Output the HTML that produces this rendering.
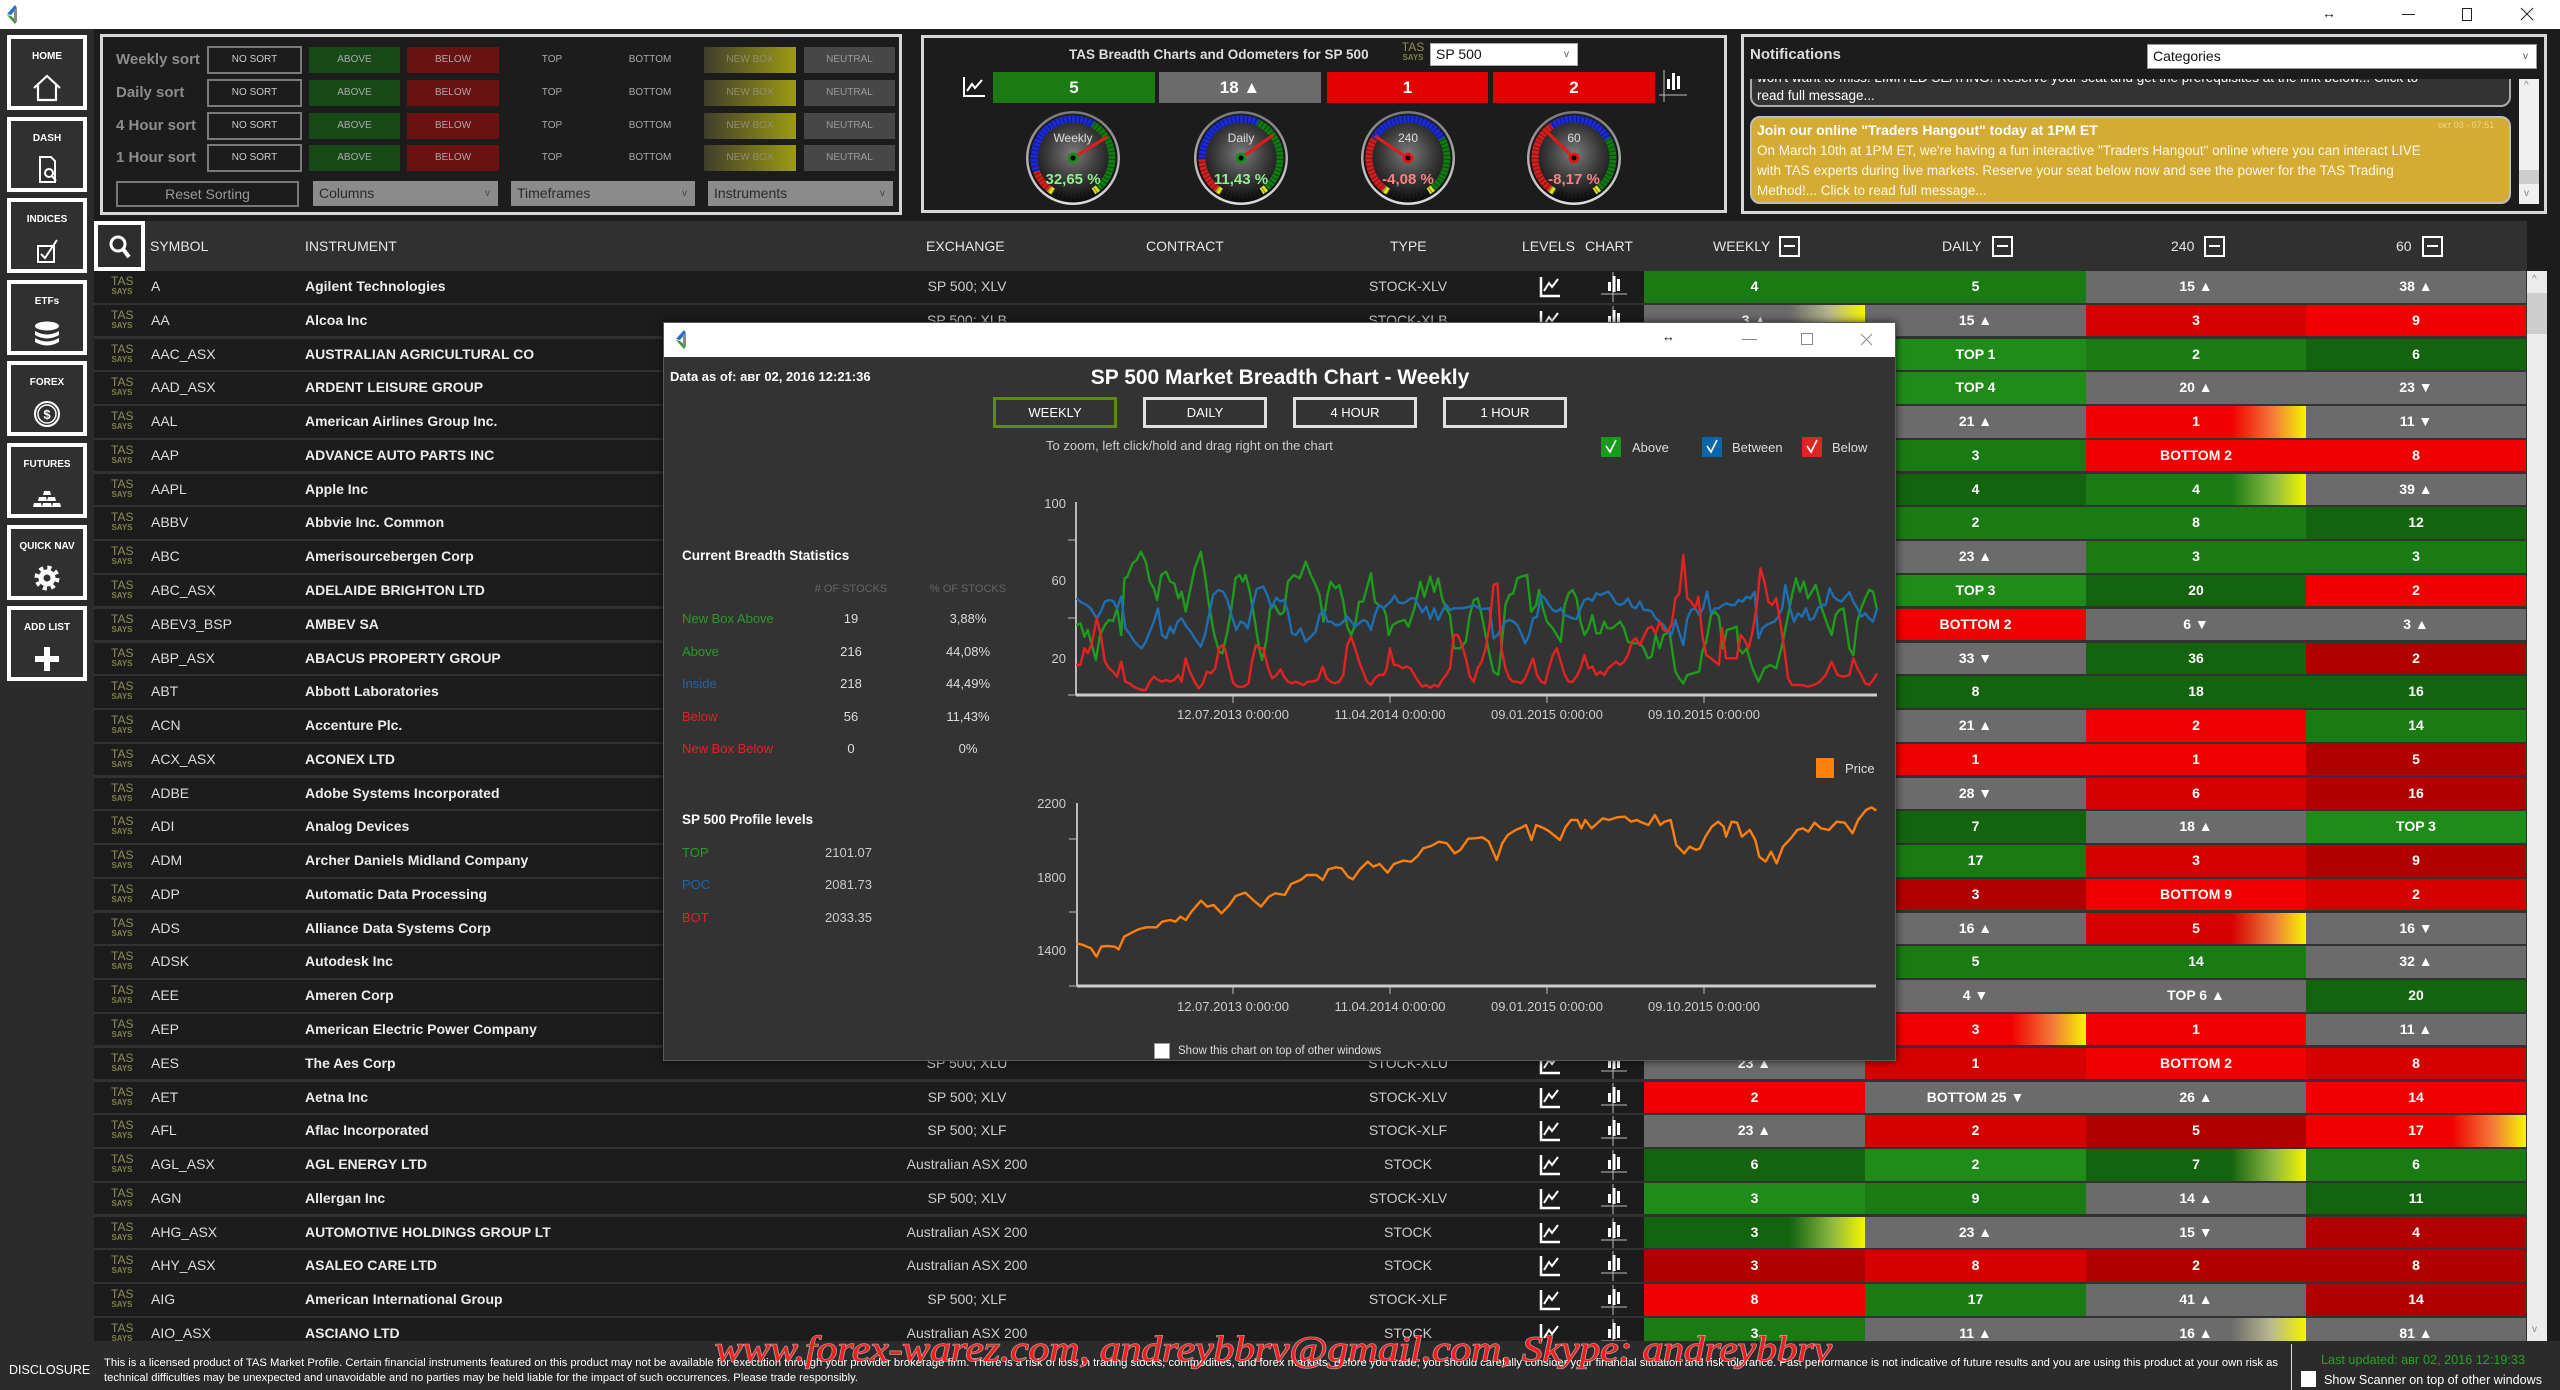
<!DOCTYPE html>
<html><head><meta charset="utf-8">
<style>
*{box-sizing:border-box}
body{margin:0;width:2560px;height:1390px;position:relative;overflow:hidden;background:#1c1c1c;font-family:"Liberation Sans","DejaVu Sans",sans-serif;color:#e6e6e6}
.a{position:absolute}
.sb{position:absolute;left:7px;width:80px;height:75px;border:4px solid #fff;background:#303030;color:#fff;font-weight:bold;font-size:10px;text-align:center}
.sb span{position:absolute;left:0;right:0;top:12px;line-height:12px}
.sb svg{position:absolute;left:19px;top:34px}
.lab{position:absolute;left:116px;font-weight:bold;font-size:15px;color:#8c8c8c;line-height:26px}
.btn{position:absolute;height:26px;line-height:26px;font-size:10px;text-align:center;color:#a9a9a9}
.ns{left:207px;width:95px;height:28px;line-height:24px;border:2px solid #7a7a7a;color:#ccc}
.ab{left:309px;width:91px;background:#174a16}
.be{left:407px;width:92px;background:#6a1111}
.tp{left:512px;width:80px}
.bt{left:610px;width:80px}
.nb{left:704px;width:92px;background:linear-gradient(90deg,#3e3e2c,#9d9b12);color:#8e8e74}
.nu{left:804px;width:91px;background:#474747;color:#9a9a9a}
.dd{position:absolute;top:181px;height:25px;background:#8b8b8b;color:#2a2a2a;font-size:14px;line-height:25px;padding-left:6px}
.dd i{position:absolute;right:8px;top:0;font-style:normal;font-size:10px;color:#444}
.bar{position:absolute;top:72px;height:31px;line-height:31px;text-align:center;color:#fff;font-weight:bold;font-size:17px}
.h{position:absolute;top:221px;line-height:50px;font-size:14px;color:#e6e6e6}
.mb{position:absolute;top:236px;width:21px;height:21px;border:2px solid #fff}
.mb:after{content:"";position:absolute;left:3px;right:3px;top:7px;height:2px;background:#fff}
.r{position:absolute;left:94px;width:2432px;height:31.5px;background:#1c1c1c;line-height:31.5px;font-size:14px}
.r .t{position:absolute;left:17px;top:5px;width:22px;color:#8d8d55;font-size:12px;line-height:11px;text-align:center}
.r .t b{display:block;font-size:8px;line-height:10px;color:#7f7f48}
.r .s{position:absolute;left:57px;color:#ddd}
.r .n{position:absolute;left:211px;font-weight:bold;color:#ececec}
.r .e{position:absolute;left:773px;width:200px;text-align:center;color:#ccc}
.r .y{position:absolute;left:1214px;width:200px;text-align:center;color:#ccc}
.r .i1{position:absolute;left:1445px;top:5px}
.r .i2{position:absolute;left:1505px;top:1px}
.r .c{position:absolute;top:0;height:31.5px;text-align:center;font-weight:bold;color:#fff}
.c1{left:1550px;width:221px}.c2{left:1771px;width:221px}.c3{left:1992px;width:220px}.c4{left:2212px;width:220px}
.g1{background:#1a7b14}.g2{background:#14640f}.g3{background:#1f8c1a}.gy{background:#6b6b6b}
.r1{background:#f00000}.r2{background:#d50000}.r3{background:#b00000}
.gyY{background:linear-gradient(90deg,#6b6b6b 66%,#b8b890 84%,#f5f500)}
.r1Y{background:linear-gradient(90deg,#f00000 66%,#f47a3a 85%,#f5f500)}
.r2Y{background:linear-gradient(90deg,#d50000 66%,#ee7a3a 85%,#f5f500)}
.g1Y{background:linear-gradient(90deg,#1a7b14 66%,#8cbc40 85%,#f5f500)}
.g2Y{background:linear-gradient(90deg,#14640f 66%,#8cb840 85%,#f5f500)}
.p{z-index:11}
.pb{position:absolute;top:397px;width:124px;height:31px;border:3px solid #e0e0e0;color:#fff;font-size:13px;line-height:25px;text-align:center;z-index:11}
.st{position:absolute;font-size:13px;line-height:16px;z-index:11}
.cv{position:absolute;width:60px;text-align:center;color:#ddd;font-size:13px;line-height:16px;z-index:11}
</style></head><body>
<svg width="0" height="0" style="position:absolute">
<defs>
<symbol id="lv" viewBox="0 0 22 22"><path d="M2 1V20H21" stroke="#fff" stroke-width="2.5" fill="none"/><path d="M5 15L10 7L13 11L19 3" stroke="#fff" stroke-width="2" fill="none"/></symbol>
<symbol id="ch" viewBox="0 0 28 30"><path d="M14 0V30M2 22H28" stroke="#bbb" stroke-width="1"/><rect x="9" y="10" width="3" height="9" fill="#fff"/><rect x="13.5" y="4" width="3" height="16" fill="#fff"/><rect x="18" y="7" width="3" height="12" fill="#fff"/></symbol>
</defs></svg>

<!-- title bar -->
<div class="a" style="left:0;top:0;width:2560px;height:29px;background:#fff"></div>
<svg class="a" style="left:5px;top:5px" width="14" height="20"><polygon points="10,0 2,9 6,10 12,3" fill="#2a6bd0"/><polygon points="2,10 10,19 12,16 6,11" fill="#3a9a2a"/><rect x="9" y="4" width="3" height="12" fill="#888"/></svg>
<div class="a" style="left:2322px;top:5px;font-size:14px;color:#222">↔</div>
<div class="a" style="left:2402px;top:14px;width:13px;height:1px;background:#222"></div>
<div class="a" style="left:2462px;top:8px;width:10px;height:13px;border:1px solid #222"></div>
<svg class="a" style="left:2520px;top:7px" width="14" height="14"><path d="M1 1L13 13M13 1L1 13" stroke="#222" stroke-width="1"/></svg>

<!-- sidebar -->
<div class="a" style="left:0;top:29px;width:94px;height:1312px;background:#2b2b2b"></div>
<div class="sb" style="top:35px"><span>HOME</span><svg width="34" height="30"><path d="M4 15L17 3L30 15M8 12V27H26V12" stroke="#fff" stroke-width="2.2" fill="none"/></svg></div>
<div class="sb" style="top:116.6px"><span>DASH</span><svg width="34" height="30"><path d="M10 2H21L25 6V27H10Z" stroke="#fff" stroke-width="2" fill="none"/><circle cx="19" cy="18" r="4" stroke="#fff" stroke-width="2" fill="none"/><path d="M22 21L26 26" stroke="#fff" stroke-width="2"/></svg></div>
<div class="sb" style="top:198.2px"><span>INDICES</span><svg width="34" height="30"><rect x="8" y="10" width="16" height="16" stroke="#fff" stroke-width="2" fill="none"/><path d="M11 18L15 22L27 4" stroke="#fff" stroke-width="2" fill="none"/></svg></div>
<div class="sb" style="top:279.8px"><span>ETFs</span><svg width="34" height="30"><ellipse cx="17" cy="8" rx="12" ry="4.5" fill="#fff"/><path d="M5 13Q17 20 29 13V17Q17 24 5 17Z M5 20Q17 27 29 20V24Q17 31 5 24Z" fill="#fff"/></svg></div>
<div class="sb" style="top:361.4px"><span>FOREX</span><svg width="34" height="30"><circle cx="17" cy="15" r="12" stroke="#fff" stroke-width="2" fill="none"/><circle cx="17" cy="15" r="9" stroke="#fff" stroke-width="1.5" fill="none"/><text x="17" y="20" text-anchor="middle" font-size="13" fill="#fff">$</text></svg></div>
<div class="sb" style="top:443px"><span>FUTURES</span><svg width="34" height="30"><path d="M14 10H20L21 14H13Z M9 16H16L17 20H8Z M18 16H25L26 20H17Z M4 22H11L12 26H3Z M13 22H21L22 26H12Z M23 22H30L31 26H22Z" fill="#fff"/></svg></div>
<div class="sb" style="top:524.6px"><span>QUICK NAV</span><svg width="34" height="30"><circle cx="17" cy="15" r="10.5" fill="none" stroke="#fff" stroke-width="4" stroke-dasharray="4.1 4.15"/><circle cx="17" cy="15" r="8.5" fill="#fff"/><circle cx="17" cy="15" r="3.5" fill="#303030"/></svg></div>
<div class="sb" style="top:606.2px"><span>ADD LIST</span><svg width="34" height="30"><path d="M17 3V27M5 15H29" stroke="#fff" stroke-width="6"/></svg></div>

<!-- sort panel -->
<div class="a" style="left:100px;top:34px;width:802px;height:181px;border:3px solid #d6d6d6"></div>
<div class="lab" style="top:47px">Weekly sort</div>
<div class="btn ns" style="top:46px">NO SORT</div><div class="btn ab" style="top:47px">ABOVE</div><div class="btn be" style="top:47px">BELOW</div><div class="btn tp" style="top:47px">TOP</div><div class="btn bt" style="top:47px">BOTTOM</div><div class="btn nb" style="top:47px">NEW BOX</div><div class="btn nu" style="top:47px">NEUTRAL</div>
<div class="lab" style="top:80px">Daily sort</div>
<div class="btn ns" style="top:79px">NO SORT</div><div class="btn ab" style="top:80px">ABOVE</div><div class="btn be" style="top:80px">BELOW</div><div class="btn tp" style="top:80px">TOP</div><div class="btn bt" style="top:80px">BOTTOM</div><div class="btn nb" style="top:80px">NEW BOX</div><div class="btn nu" style="top:80px">NEUTRAL</div>
<div class="lab" style="top:113px">4 Hour sort</div>
<div class="btn ns" style="top:112px">NO SORT</div><div class="btn ab" style="top:113px">ABOVE</div><div class="btn be" style="top:113px">BELOW</div><div class="btn tp" style="top:113px">TOP</div><div class="btn bt" style="top:113px">BOTTOM</div><div class="btn nb" style="top:113px">NEW BOX</div><div class="btn nu" style="top:113px">NEUTRAL</div>
<div class="lab" style="top:145px">1 Hour sort</div>
<div class="btn ns" style="top:144px">NO SORT</div><div class="btn ab" style="top:145px">ABOVE</div><div class="btn be" style="top:145px">BELOW</div><div class="btn tp" style="top:145px">TOP</div><div class="btn bt" style="top:145px">BOTTOM</div><div class="btn nb" style="top:145px">NEW BOX</div><div class="btn nu" style="top:145px">NEUTRAL</div>
<div class="a" style="left:116px;top:181px;width:183px;height:26px;border:2px solid #777;color:#9a9a9a;font-size:14px;line-height:22px;text-align:center">Reset Sorting</div>
<div class="dd" style="left:313px;width:185px">Columns<i>v</i></div>
<div class="dd" style="left:511px;width:184px">Timeframes<i>v</i></div>
<div class="dd" style="left:708px;width:185px">Instruments<i>v</i></div>

<!-- odometer panel -->
<div class="a" style="left:921px;top:35px;width:806px;height:178px;border:3px solid #d6d6d6"></div>
<div class="a" style="left:1069px;top:46px;font-size:13.5px;font-weight:bold;color:#ddd;line-height:18px">TAS Breadth Charts and Odometers for SP 500</div>
<div class="a" style="left:1401px;top:42px;width:24px;text-align:center;color:#8d8d55;font-size:12px;line-height:11px">TAS<div style="font-size:8px;line-height:10px;font-weight:bold;color:#7f7f48">SAYS</div></div>
<div class="a" style="left:1430px;top:43px;width:148px;height:23px;background:#fff;border:1px solid #aaa;color:#111;font-size:14px;line-height:21px;padding-left:5px">SP 500<span style="position:absolute;right:8px;font-size:10px;color:#555">v</span></div>
<svg class="a" style="left:962px;top:76px" width="24" height="22"><path d="M2 1V20H23" stroke="#fff" stroke-width="2" fill="none"/><path d="M5 15L10 8L13 12L20 4" stroke="#fff" stroke-width="2" fill="none"/></svg>
<svg class="a" style="left:1659px;top:70px" width="28" height="32"><path d="M5 0V32M0 25H28" stroke="#bbb" stroke-width="1"/><rect x="8" y="9" width="3" height="10" fill="#fff"/><rect x="13" y="3" width="3" height="17" fill="#fff"/><rect x="18" y="6" width="3" height="13" fill="#fff"/></svg>
<div class="bar" style="left:993px;width:162px;background:#1b7a14">5</div>
<div class="bar" style="left:1159px;width:162px;background:#6b6b6b">18 ▲</div>
<div class="bar" style="left:1327px;width:161px;background:#e20000">1</div>
<div class="bar" style="left:1493px;width:162px;background:#e20000">2</div>
<svg class="a" style="left:921px;top:35px" width="806" height="178" viewBox="921 35 806 178">
<defs>
<radialGradient id="face" cx="50%" cy="45%" r="55%"><stop offset="0" stop-color="#7a7a7a"/><stop offset=".55" stop-color="#383838"/><stop offset="1" stop-color="#0c0c0c"/></radialGradient>
<linearGradient id="bez" x1="0" y1="0" x2="0" y2="1"><stop offset="0" stop-color="#777"/><stop offset="1" stop-color="#e0e0e0"/></linearGradient>
</defs>
<g font-family="Liberation Sans, sans-serif">
<g transform="translate(1073,158)">
<circle r="47" fill="url(#bez)"/><circle r="44.5" fill="url(#face)"/>
<g transform="rotate(120)" fill="none" stroke-width="7">
<circle r="39" stroke="#e0e020" stroke-dasharray="5.4 300"/>
<circle r="39" stroke="#d02020" stroke-dasharray="21.8 300" stroke-dashoffset="-5.4"/>
<circle r="39" stroke="#1a2ad8" stroke-dasharray="95.3 300" stroke-dashoffset="-27.2"/>
<circle r="39" stroke="#127a12" stroke-dasharray="74.9 300" stroke-dashoffset="-122.5"/>
<circle r="39" stroke="#e0e020" stroke-dasharray="5.4 300" stroke-dashoffset="-197.4"/>
<circle r="39" stroke="#000" stroke-opacity=".4" stroke-dasharray="1 3"/>
</g>
<text y="-16" text-anchor="middle" font-size="12" fill="#ddd">Weekly</text>
<line x1="-4" y1="2.5" x2="34" y2="-21" stroke="#e41b1b" stroke-width="3"/>
<circle r="5.5" fill="#1a8a1a"/><circle r="2.5" fill="#000"/>
<text y="26" text-anchor="middle" font-size="15" font-weight="bold" fill="#8ff08f">32,65 %</text>
</g>
<g transform="translate(1241,158)">
<circle r="47" fill="url(#bez)"/><circle r="44.5" fill="url(#face)"/>
<g transform="rotate(120)" fill="none" stroke-width="7">
<circle r="39" stroke="#e0e020" stroke-dasharray="5.4 300"/>
<circle r="39" stroke="#d02020" stroke-dasharray="34 300" stroke-dashoffset="-5.4"/>
<circle r="39" stroke="#1a2ad8" stroke-dasharray="79.6 300" stroke-dashoffset="-39.5"/>
<circle r="39" stroke="#127a12" stroke-dasharray="78.3 300" stroke-dashoffset="-119.1"/>
<circle r="39" stroke="#e0e020" stroke-dasharray="5.4 300" stroke-dashoffset="-197.4"/>
<circle r="39" stroke="#000" stroke-opacity=".4" stroke-dasharray="1 3"/>
</g>
<text y="-16" text-anchor="middle" font-size="12" fill="#ddd">Daily</text>
<line x1="-4" y1="3" x2="32" y2="-23" stroke="#e41b1b" stroke-width="3"/>
<circle r="5.5" fill="#1a8a1a"/><circle r="2.5" fill="#000"/>
<text y="26" text-anchor="middle" font-size="15" font-weight="bold" fill="#8ff08f">11,43 %</text>
</g>
<g transform="translate(1408,158)">
<circle r="47" fill="url(#bez)"/><circle r="44.5" fill="url(#face)"/>
<g transform="rotate(120)" fill="none" stroke-width="7">
<circle r="39" stroke="#e0e020" stroke-dasharray="5.4 300"/>
<circle r="39" stroke="#d02020" stroke-dasharray="55.8 300" stroke-dashoffset="-5.4"/>
<circle r="39" stroke="#1a2ad8" stroke-dasharray="81.7 300" stroke-dashoffset="-61.3"/>
<circle r="39" stroke="#127a12" stroke-dasharray="54.5 300" stroke-dashoffset="-142.9"/>
<circle r="39" stroke="#e0e020" stroke-dasharray="5.4 300" stroke-dashoffset="-197.4"/>
<circle r="39" stroke="#000" stroke-opacity=".4" stroke-dasharray="1 3"/>
</g>
<text y="-16" text-anchor="middle" font-size="12" fill="#ddd">240</text>
<line x1="4" y1="3" x2="-33" y2="-22" stroke="#e41b1b" stroke-width="3"/>
<circle r="5.5" fill="#e01818"/><circle r="2.5" fill="#000"/>
<text y="26" text-anchor="middle" font-size="15" font-weight="bold" fill="#ff8080">-4,08 %</text>
</g>
<g transform="translate(1574,158)">
<circle r="47" fill="url(#bez)"/><circle r="44.5" fill="url(#face)"/>
<g transform="rotate(120)" fill="none" stroke-width="7">
<circle r="39" stroke="#e0e020" stroke-dasharray="5.4 300"/>
<circle r="39" stroke="#d02020" stroke-dasharray="72.8 300" stroke-dashoffset="-5.4"/>
<circle r="39" stroke="#1a2ad8" stroke-dasharray="64.7 300" stroke-dashoffset="-78.3"/>
<circle r="39" stroke="#127a12" stroke-dasharray="54.5 300" stroke-dashoffset="-142.9"/>
<circle r="39" stroke="#e0e020" stroke-dasharray="5.4 300" stroke-dashoffset="-197.4"/>
<circle r="39" stroke="#000" stroke-opacity=".4" stroke-dasharray="1 3"/>
</g>
<text y="-16" text-anchor="middle" font-size="12" fill="#ddd">60</text>
<line x1="3" y1="3" x2="-29" y2="-28" stroke="#e41b1b" stroke-width="3"/>
<circle r="5.5" fill="#e01818"/><circle r="2.5" fill="#000"/>
<text y="26" text-anchor="middle" font-size="15" font-weight="bold" fill="#ff8080">-8,17 %</text>
</g>
</g>
</svg>

<!-- notifications -->
<div class="a" style="left:1741px;top:34px;width:806px;height:180px;border:3px solid #d6d6d6"></div>
<div class="a" style="left:1750px;top:45px;font-size:15px;font-weight:bold;color:#ddd;line-height:20px">Notifications</div>
<div class="a" style="left:2147px;top:44px;width:390px;height:25px;background:#fff;border:1px solid #999;color:#111;font-size:14px;line-height:23px;padding-left:5px">Categories<span style="position:absolute;right:8px;font-size:10px;color:#555">v</span></div>
<div class="a" style="left:1748px;top:79px;width:766px;height:127px;overflow:hidden">
 <div class="a" style="left:2px;top:-40px;width:761px;height:68px;background:#333;border:2px solid #aaa;border-radius:10px"></div>
 <div class="a" style="left:9px;top:-11px;font-size:13.5px;color:#fff;line-height:20px;white-space:nowrap">won't want to miss! LIMITED SEATING! Reserve your seat and get the prerequisites at the link below... Click to</div>
 <div class="a" style="left:9px;top:7px;font-size:13.5px;color:#fff;line-height:20px">read full message...</div>
 <div class="a" style="left:2px;top:37px;width:761px;height:88px;background:#d4ab33;border:2px solid #bdbdbd;border-radius:10px"></div>
 <div class="a" style="left:9px;top:41px;font-size:14px;font-weight:bold;color:#fff;line-height:20px;white-space:nowrap">Join our online "Traders Hangout" today at 1PM ET</div>
 <div class="a" style="left:690px;top:40px;font-size:9px;color:#eed98a;line-height:12px">окт 03 - 07:51</div>
 <div class="a" style="left:9px;top:62px;font-size:13.5px;color:#fff8e6;line-height:20px;white-space:nowrap">On March 10th at 1PM ET, we're having a fun interactive "Traders Hangout" online where you can interact LIVE<br>with TAS experts during live markets. Reserve your seat below now and see the power for the TAS Trading<br>Method!... Click to read full message...</div>
</div>
<div class="a" style="left:2519px;top:79px;width:20px;height:125px;background:#f0f0f0"></div>
<div class="a" style="left:2519px;top:170px;width:20px;height:14px;background:#cdcdcd"></div>
<div class="a" style="left:2524px;top:80px;font-size:10px;color:#888">^</div>
<div class="a" style="left:2524px;top:188px;font-size:10px;color:#888">v</div>

<!-- table header -->
<div class="a" style="left:94px;top:221px;width:2433px;height:50px;background:#303030"></div>
<div class="a" style="left:94px;top:221px;width:51px;height:50px;border:4px solid #fff;background:#2d2d2d"></div>
<svg class="a" style="left:108px;top:234px" width="24" height="26"><circle cx="10" cy="10" r="7" stroke="#fff" stroke-width="3" fill="none"/><path d="M15 15L21 23" stroke="#fff" stroke-width="4"/></svg>
<div class="h" style="left:150px">SYMBOL</div>
<div class="h" style="left:305px">INSTRUMENT</div>
<div class="h" style="left:926px">EXCHANGE</div>
<div class="h" style="left:1146px">CONTRACT</div>
<div class="h" style="left:1390px">TYPE</div>
<div class="h" style="left:1522px">LEVELS</div>
<div class="h" style="left:1585px">CHART</div>
<div class="h" style="left:1713px">WEEKLY</div><div class="mb" style="left:1779px"></div>
<div class="h" style="left:1942px">DAILY</div><div class="mb" style="left:1992px"></div>
<div class="h" style="left:2171px">240</div><div class="mb" style="left:2204px"></div>
<div class="h" style="left:2396px">60</div><div class="mb" style="left:2422px"></div>

<!-- table body -->
<div class="a" style="left:94px;top:271px;width:2433px;height:1070px;background:#323232"></div>
<div class="r" style="top:271px"><div class="t">TAS<b>SAYS</b></div><div class="s">A</div><div class="n">Agilent Technologies</div><div class="e">SP 500; XLV</div><div class="y">STOCK-XLV</div><svg class="i1" width="22" height="22"><use href="#lv"/></svg><svg class="i2" width="28" height="30"><use href="#ch"/></svg><div class="c c1 g1">4</div><div class="c c2 g1">5</div><div class="c c3 gy">15 ▲</div><div class="c c4 gy">38 ▲</div></div>
<div class="r" style="top:304.8px"><div class="t">TAS<b>SAYS</b></div><div class="s">AA</div><div class="n">Alcoa Inc</div><div class="e">SP 500; XLB</div><div class="y">STOCK-XLB</div><svg class="i1" width="22" height="22"><use href="#lv"/></svg><svg class="i2" width="28" height="30"><use href="#ch"/></svg><div class="c c1 gyY">3 ▲</div><div class="c c2 gy">15 ▲</div><div class="c c3 r2">3</div><div class="c c4 r1">9</div></div>
<div class="r" style="top:338.5px"><div class="t">TAS<b>SAYS</b></div><div class="s">AAC_ASX</div><div class="n">AUSTRALIAN AGRICULTURAL CO</div><div class="e">Australian ASX 200</div><div class="y">STOCK</div><div class="c c1 g1">5</div><div class="c c2 g3">TOP 1</div><div class="c c3 g1">2</div><div class="c c4 g2">6</div></div>
<div class="r" style="top:372.3px"><div class="t">TAS<b>SAYS</b></div><div class="s">AAD_ASX</div><div class="n">ARDENT LEISURE GROUP</div><div class="e">Australian ASX 200</div><div class="y">STOCK</div><div class="c c1 g1">3</div><div class="c c2 g3">TOP 4</div><div class="c c3 gy">20 ▲</div><div class="c c4 gy">23 ▼</div></div>
<div class="r" style="top:406.1px"><div class="t">TAS<b>SAYS</b></div><div class="s">AAL</div><div class="n">American Airlines Group Inc.</div><div class="c c2 gy">21 ▲</div><div class="c c3 r1Y">1</div><div class="c c4 gy">11 ▼</div></div>
<div class="r" style="top:439.9px"><div class="t">TAS<b>SAYS</b></div><div class="s">AAP</div><div class="n">ADVANCE AUTO PARTS INC</div><div class="c c2 g1">3</div><div class="c c3 r1">BOTTOM 2</div><div class="c c4 r1">8</div></div>
<div class="r" style="top:473.6px"><div class="t">TAS<b>SAYS</b></div><div class="s">AAPL</div><div class="n">Apple Inc</div><div class="c c2 g2">4</div><div class="c c3 g1Y">4</div><div class="c c4 gy">39 ▲</div></div>
<div class="r" style="top:507.4px"><div class="t">TAS<b>SAYS</b></div><div class="s">ABBV</div><div class="n">Abbvie Inc. Common</div><div class="c c2 g1">2</div><div class="c c3 g1">8</div><div class="c c4 g2">12</div></div>
<div class="r" style="top:541.2px"><div class="t">TAS<b>SAYS</b></div><div class="s">ABC</div><div class="n">Amerisourcebergen Corp</div><div class="c c2 gy">23 ▲</div><div class="c c3 g1">3</div><div class="c c4 g1">3</div></div>
<div class="r" style="top:574.9px"><div class="t">TAS<b>SAYS</b></div><div class="s">ABC_ASX</div><div class="n">ADELAIDE BRIGHTON LTD</div><div class="c c2 g3">TOP 3</div><div class="c c3 g2">20</div><div class="c c4 r1">2</div></div>
<div class="r" style="top:608.7px"><div class="t">TAS<b>SAYS</b></div><div class="s">ABEV3_BSP</div><div class="n">AMBEV SA</div><div class="c c2 r1">BOTTOM 2</div><div class="c c3 gy">6 ▼</div><div class="c c4 gy">3 ▲</div></div>
<div class="r" style="top:642.5px"><div class="t">TAS<b>SAYS</b></div><div class="s">ABP_ASX</div><div class="n">ABACUS PROPERTY GROUP</div><div class="c c2 gy">33 ▼</div><div class="c c3 g2">36</div><div class="c c4 r3">2</div></div>
<div class="r" style="top:676.2px"><div class="t">TAS<b>SAYS</b></div><div class="s">ABT</div><div class="n">Abbott Laboratories</div><div class="c c2 g2">8</div><div class="c c3 g2">18</div><div class="c c4 g2">16</div></div>
<div class="r" style="top:710px"><div class="t">TAS<b>SAYS</b></div><div class="s">ACN</div><div class="n">Accenture Plc.</div><div class="c c2 gy">21 ▲</div><div class="c c3 r1">2</div><div class="c c4 g1">14</div></div>
<div class="r" style="top:743.8px"><div class="t">TAS<b>SAYS</b></div><div class="s">ACX_ASX</div><div class="n">ACONEX LTD</div><div class="c c2 r1">1</div><div class="c c3 r1">1</div><div class="c c4 r3">5</div></div>
<div class="r" style="top:777.6px"><div class="t">TAS<b>SAYS</b></div><div class="s">ADBE</div><div class="n">Adobe Systems Incorporated</div><div class="c c2 gy">28 ▼</div><div class="c c3 r2">6</div><div class="c c4 r3">16</div></div>
<div class="r" style="top:811.3px"><div class="t">TAS<b>SAYS</b></div><div class="s">ADI</div><div class="n">Analog Devices</div><div class="c c2 g2">7</div><div class="c c3 gy">18 ▲</div><div class="c c4 g3">TOP 3</div></div>
<div class="r" style="top:845.1px"><div class="t">TAS<b>SAYS</b></div><div class="s">ADM</div><div class="n">Archer Daniels Midland Company</div><div class="c c2 g1">17</div><div class="c c3 r2">3</div><div class="c c4 r3">9</div></div>
<div class="r" style="top:878.9px"><div class="t">TAS<b>SAYS</b></div><div class="s">ADP</div><div class="n">Automatic Data Processing</div><div class="c c2 r3">3</div><div class="c c3 r1">BOTTOM 9</div><div class="c c4 r2">2</div></div>
<div class="r" style="top:912.6px"><div class="t">TAS<b>SAYS</b></div><div class="s">ADS</div><div class="n">Alliance Data Systems Corp</div><div class="c c2 gy">16 ▲</div><div class="c c3 r2Y">5</div><div class="c c4 gy">16 ▼</div></div>
<div class="r" style="top:946.4px"><div class="t">TAS<b>SAYS</b></div><div class="s">ADSK</div><div class="n">Autodesk Inc</div><div class="c c2 g1">5</div><div class="c c3 g1">14</div><div class="c c4 gy">32 ▲</div></div>
<div class="r" style="top:980.2px"><div class="t">TAS<b>SAYS</b></div><div class="s">AEE</div><div class="n">Ameren Corp</div><div class="c c2 gy">4 ▼</div><div class="c c3 gy">TOP 6 ▲</div><div class="c c4 g2">20</div></div>
<div class="r" style="top:1013.9px"><div class="t">TAS<b>SAYS</b></div><div class="s">AEP</div><div class="n">American Electric Power Company</div><div class="c c2 r1Y">3</div><div class="c c3 r1">1</div><div class="c c4 gy">11 ▲</div></div>
<div class="r" style="top:1047.7px"><div class="t">TAS<b>SAYS</b></div><div class="s">AES</div><div class="n">The Aes Corp</div><div class="e">SP 500; XLU</div><div class="y">STOCK-XLU</div><svg class="i1" width="22" height="22"><use href="#lv"/></svg><svg class="i2" width="28" height="30"><use href="#ch"/></svg><div class="c c1 gy">23 ▲</div><div class="c c2 r2">1</div><div class="c c3 r1">BOTTOM 2</div><div class="c c4 r2">8</div></div>
<div class="r" style="top:1081.5px"><div class="t">TAS<b>SAYS</b></div><div class="s">AET</div><div class="n">Aetna Inc</div><div class="e">SP 500; XLV</div><div class="y">STOCK-XLV</div><svg class="i1" width="22" height="22"><use href="#lv"/></svg><svg class="i2" width="28" height="30"><use href="#ch"/></svg><div class="c c1 r1">2</div><div class="c c2 gy">BOTTOM 25 ▼</div><div class="c c3 gy">26 ▲</div><div class="c c4 r1">14</div></div>
<div class="r" style="top:1115.3px"><div class="t">TAS<b>SAYS</b></div><div class="s">AFL</div><div class="n">Aflac Incorporated</div><div class="e">SP 500; XLF</div><div class="y">STOCK-XLF</div><svg class="i1" width="22" height="22"><use href="#lv"/></svg><svg class="i2" width="28" height="30"><use href="#ch"/></svg><div class="c c1 gy">23 ▲</div><div class="c c2 r2">2</div><div class="c c3 r3">5</div><div class="c c4 r1Y">17</div></div>
<div class="r" style="top:1149px"><div class="t">TAS<b>SAYS</b></div><div class="s">AGL_ASX</div><div class="n">AGL ENERGY LTD</div><div class="e">Australian ASX 200</div><div class="y">STOCK</div><svg class="i1" width="22" height="22"><use href="#lv"/></svg><svg class="i2" width="28" height="30"><use href="#ch"/></svg><div class="c c1 g2">6</div><div class="c c2 g3">2</div><div class="c c3 g2Y">7</div><div class="c c4 g1">6</div></div>
<div class="r" style="top:1182.8px"><div class="t">TAS<b>SAYS</b></div><div class="s">AGN</div><div class="n">Allergan Inc</div><div class="e">SP 500; XLV</div><div class="y">STOCK-XLV</div><svg class="i1" width="22" height="22"><use href="#lv"/></svg><svg class="i2" width="28" height="30"><use href="#ch"/></svg><div class="c c1 g3">3</div><div class="c c2 g1">9</div><div class="c c3 gy">14 ▲</div><div class="c c4 g2">11</div></div>
<div class="r" style="top:1216.6px"><div class="t">TAS<b>SAYS</b></div><div class="s">AHG_ASX</div><div class="n">AUTOMOTIVE HOLDINGS GROUP LT</div><div class="e">Australian ASX 200</div><div class="y">STOCK</div><svg class="i1" width="22" height="22"><use href="#lv"/></svg><svg class="i2" width="28" height="30"><use href="#ch"/></svg><div class="c c1 g2Y">3</div><div class="c c2 gy">23 ▲</div><div class="c c3 gy">15 ▼</div><div class="c c4 r3">4</div></div>
<div class="r" style="top:1250.3px"><div class="t">TAS<b>SAYS</b></div><div class="s">AHY_ASX</div><div class="n">ASALEO CARE LTD</div><div class="e">Australian ASX 200</div><div class="y">STOCK</div><svg class="i1" width="22" height="22"><use href="#lv"/></svg><svg class="i2" width="28" height="30"><use href="#ch"/></svg><div class="c c1 r3">3</div><div class="c c2 r2">8</div><div class="c c3 r3">2</div><div class="c c4 r3">8</div></div>
<div class="r" style="top:1284.1px"><div class="t">TAS<b>SAYS</b></div><div class="s">AIG</div><div class="n">American International Group</div><div class="e">SP 500; XLF</div><div class="y">STOCK-XLF</div><svg class="i1" width="22" height="22"><use href="#lv"/></svg><svg class="i2" width="28" height="30"><use href="#ch"/></svg><div class="c c1 r1">8</div><div class="c c2 g1">17</div><div class="c c3 gy">41 ▲</div><div class="c c4 r3">14</div></div>
<div class="r" style="top:1317.9px"><div class="t">TAS<b>SAYS</b></div><div class="s">AIO_ASX</div><div class="n">ASCIANO LTD</div><div class="e">Australian ASX 200</div><div class="y">STOCK</div><svg class="i1" width="22" height="22"><use href="#lv"/></svg><svg class="i2" width="28" height="30"><use href="#ch"/></svg><div class="c c1 g1">3</div><div class="c c2 gy">11 ▲</div><div class="c c3 gyY">16 ▲</div><div class="c c4 gy">81 ▲</div></div>

<!-- table scrollbar -->
<div class="a" style="left:2527px;top:271px;width:20px;height:1070px;background:#ececec"></div>
<div class="a" style="left:2527px;top:293px;width:20px;height:41px;background:#cdcdcd"></div>
<div class="a" style="left:2532px;top:274px;font-size:10px;color:#888">^</div>
<div class="a" style="left:2532px;top:1324px;font-size:10px;color:#888">v</div>

<!-- popup window -->
<div class="a" style="left:663px;top:322px;width:1233px;height:739px;background:#333;border:1px solid #5a5a5a;z-index:10;box-shadow:0 0 8px rgba(0,0,0,.7)"></div>
<div class="a p" style="left:664px;top:323px;width:1231px;height:34px;background:#fff"></div>
<svg class="a p" style="left:674px;top:330px" width="14" height="20"><polygon points="10,0 2,9 6,10 12,3" fill="#2a6bd0"/><polygon points="2,10 10,19 12,16 6,11" fill="#3a9a2a"/><rect x="9" y="4" width="3" height="12" fill="#888"/></svg>
<div class="a p" style="left:1662px;top:329px;font-size:13px;color:#111">↔</div>
<div class="a p" style="left:1742px;top:339px;width:15px;height:1px;background:#888"></div>
<div class="a p" style="left:1801px;top:333px;width:12px;height:12px;border:1px solid #888"></div>
<svg class="a p" style="left:1860px;top:333px" width="13" height="13"><path d="M1 1L12 12M12 1L1 12" stroke="#888" stroke-width="1"/></svg>
<div class="a p" style="left:670px;top:369px;font-size:13px;font-weight:bold;color:#fff;line-height:16px">Data as of: авг 02, 2016 12:21:36</div>
<div class="a p" style="left:1060px;top:365px;width:440px;text-align:center;font-size:21px;font-weight:bold;color:#fff;line-height:26px">SP 500 Market Breadth Chart - Weekly</div>
<div class="pb" style="left:993px;border-color:#5b8c0f">WEEKLY</div>
<div class="pb" style="left:1143px">DAILY</div>
<div class="pb" style="left:1293px">4 HOUR</div>
<div class="pb" style="left:1443px">1 HOUR</div>
<div class="a p" style="left:1046px;top:438px;font-size:13px;color:#ccc;line-height:16px">To zoom, left click/hold and drag right on the chart</div>
<svg class="a p" style="left:1600px;top:436px" width="290" height="22">
<rect x="1" y="1" width="20" height="20" fill="#1a9a1a"/><path d="M6 10L10 16L16 4" stroke="#fff" stroke-width="1.6" fill="none"/>
<text x="32" y="16" font-size="13" fill="#ddd" font-family="Liberation Sans, sans-serif">Above</text>
<rect x="102" y="1" width="20" height="20" fill="#0a66a6"/><path d="M107 10L111 16L117 4" stroke="#fff" stroke-width="1.6" fill="none"/>
<text x="132" y="16" font-size="13" fill="#ddd" font-family="Liberation Sans, sans-serif">Between</text>
<rect x="202" y="1" width="20" height="20" fill="#e02424"/><path d="M207 10L211 16L217 4" stroke="#fff" stroke-width="1.6" fill="none"/>
<text x="232" y="16" font-size="13" fill="#ddd" font-family="Liberation Sans, sans-serif">Below</text>
</svg>

<div class="st" style="left:682px;top:548px;font-weight:bold;color:#fff;font-size:13.5px">Current Breadth Statistics</div>
<div class="cv" style="left:801px;top:581px;width:100px;font-size:11px;color:#666"># OF STOCKS</div>
<div class="cv" style="left:918px;top:581px;width:100px;font-size:11px;color:#666">% OF STOCKS</div>
<div class="st" style="left:682px;top:611px;color:#2a9a2a">New Box Above</div><div class="cv" style="left:821px;top:611px">19</div><div class="cv" style="left:938px;top:611px">3,88%</div>
<div class="st" style="left:682px;top:644px;color:#2a9a2a">Above</div><div class="cv" style="left:821px;top:644px">216</div><div class="cv" style="left:938px;top:644px">44,08%</div>
<div class="st" style="left:682px;top:676px;color:#1f66aa">Inside</div><div class="cv" style="left:821px;top:676px">218</div><div class="cv" style="left:938px;top:676px">44,49%</div>
<div class="st" style="left:682px;top:709px;color:#e02424">Below</div><div class="cv" style="left:821px;top:709px">56</div><div class="cv" style="left:938px;top:709px">11,43%</div>
<div class="st" style="left:682px;top:741px;color:#e02424">New Box Below</div><div class="cv" style="left:821px;top:741px">0</div><div class="cv" style="left:938px;top:741px">0%</div>

<div class="st" style="left:682px;top:812px;font-weight:bold;color:#fff;font-size:13.5px">SP 500 Profile levels</div>
<div class="st" style="left:682px;top:845px;color:#2a9a2a">TOP</div><div class="st" style="left:825px;top:845px;color:#ccc">2101.07</div>
<div class="st" style="left:682px;top:877px;color:#1f66aa">POC</div><div class="st" style="left:825px;top:877px;color:#ccc">2081.73</div>
<div class="st" style="left:682px;top:910px;color:#e02424">BOT</div><div class="st" style="left:825px;top:910px;color:#ccc">2033.35</div>

<div class="a p" style="left:1816px;top:758px;width:18px;height:20px;background:#ff7f0e"></div>
<div class="a p" style="left:1845px;top:761px;font-size:13px;color:#ddd;line-height:16px">Price</div>
<div class="a p" style="left:1154px;top:1043px;width:16px;height:16px;background:#fff;border:1px solid #999"></div>
<div class="a p" style="left:1178px;top:1044px;font-size:11.5px;color:#ddd;line-height:14px">Show this chart on top of other windows</div>

<svg class="a p" style="left:663px;top:322px" width="1233" height="739" viewBox="663 322 1233 739">
<g font-family="Liberation Sans, sans-serif" font-size="13" fill="#ccc">
<text x="1066" y="508" text-anchor="end">100</text>
<text x="1066" y="585" text-anchor="end">60</text>
<text x="1066" y="663" text-anchor="end">20</text>
<text x="1233" y="719" text-anchor="middle">12.07.2013 0:00:00</text>
<text x="1390" y="719" text-anchor="middle">11.04.2014 0:00:00</text>
<text x="1547" y="719" text-anchor="middle">09.01.2015 0:00:00</text>
<text x="1704" y="719" text-anchor="middle">09.10.2015 0:00:00</text>
<text x="1066" y="808" text-anchor="end">2200</text>
<text x="1066" y="882" text-anchor="end">1800</text>
<text x="1066" y="955" text-anchor="end">1400</text>
<text x="1233" y="1011" text-anchor="middle">12.07.2013 0:00:00</text>
<text x="1390" y="1011" text-anchor="middle">11.04.2014 0:00:00</text>
<text x="1547" y="1011" text-anchor="middle">09.01.2015 0:00:00</text>
<text x="1704" y="1011" text-anchor="middle">09.10.2015 0:00:00</text>
</g>
<g stroke="#bbb" stroke-width="1">
<path d="M1068 540H1076M1068 618H1076M1068 695H1076M1233 695V703M1390 695V703M1547 695V703M1704 695V703"/>
<path d="M1069 839H1077M1069 912H1077M1069 986H1077M1233 986V994M1390 986V994M1547 986V994M1704 986V994"/>
</g>
<path d="M1076 502V695" stroke="#bbb" stroke-width="2"/>
<path d="M1076 695H1877" stroke="#ccc" stroke-width="3"/>
<path d="M1077 803V986" stroke="#bbb" stroke-width="2"/>
<path d="M1077 986H1876" stroke="#ccc" stroke-width="3"/>
<g fill="none" stroke-width="2.4" stroke-linejoin="round">
<g transform="translate(660,315) scale(0.40816,0.33333)">
<polyline vector-effect="non-scaling-stroke" stroke="#1f9a1f" points="1020,930 1030,925 1040,965 1048,945 1058,990 1068,1035 1078,960 1090,930 1100,915 1110,918 1120,880 1130,960 1138,790 1145,785 1158,745 1168,735 1178,710 1190,740 1200,800 1210,820 1218,855 1228,780 1240,770 1250,800 1260,805 1270,850 1278,830 1288,890 1298,830 1310,760 1325,710 1335,780 1345,870 1358,960 1370,1010 1378,1015 1390,950 1400,880 1410,790 1420,780 1428,800 1435,780 1445,830 1455,900 1468,1000 1475,1035 1485,980 1495,880 1505,870 1519,900"/>
<polyline vector-effect="non-scaling-stroke" stroke="#1f6eb0" points="1020,850 1030,860 1045,870 1055,880 1070,910 1080,890 1090,860 1100,855 1110,858 1120,880 1130,845 1140,940 1150,955 1160,975 1170,990 1180,1000 1190,980 1200,950 1210,920 1220,880 1230,960 1240,970 1250,935 1258,955 1268,920 1278,910 1290,935 1300,950 1310,970 1325,995 1335,960 1345,900 1355,840 1368,825 1380,830 1390,855 1400,900 1412,945 1422,920 1432,925 1440,940 1450,880 1462,822 1478,815 1488,840 1498,880 1510,848 1519,860"/>
<polyline vector-effect="non-scaling-stroke" stroke="#e52222" points="1020,1050 1030,1050 1040,1000 1048,1015 1058,985 1070,910 1080,960 1090,1040 1100,1060 1110,1070 1120,1085 1130,1040 1140,1100 1150,1105 1160,1115 1170,1120 1180,1125 1190,1125 1200,1100 1210,1085 1220,1095 1230,1100 1240,1095 1250,1100 1260,1095 1270,1080 1278,1100 1288,1030 1298,1070 1310,1100 1320,1120 1330,1105 1340,1070 1350,1075 1360,1060 1370,1000 1378,990 1385,1005 1395,1060 1405,1105 1415,1115 1430,1115 1442,1105 1450,1040 1460,990 1470,1000 1478,1000 1490,1060 1500,1090 1510,1080 1519,1065"/>
</g>
<g transform="translate(1280,315) scale(0.39541,0.33333)">
<polyline vector-effect="non-scaling-stroke" stroke="#1f9a1f" points="0,900 10,890 20,800 35,780 50,790 65,740 78,780 90,810 100,840 110,920 120,840 128,800 140,820 150,810 160,860 170,935 180,960 190,930 200,860 210,860 230,775 240,860 250,870 262,880 268,900 275,960 285,930 300,920 315,915 325,935 340,880 355,800 365,845 380,785 390,830 400,790 410,850 420,880 430,900 440,1000 455,1000 470,980 480,900 490,855 500,850 510,900 520,960 530,1020 540,1070 552,1080 560,1000 570,870 580,840 590,835 600,790 610,785 625,780 635,890 648,870 655,825 665,880 675,920 690,940 700,960 710,980 720,870 730,835 740,825 750,850 760,920 770,960 780,940 790,900 800,955 810,955 820,920 828,940 840,940 850,930 860,920 870,940 880,980 890,985 900,985 910,985 920,1000 930,1030 940,1025 950,960 960,1000 970,960 985,950 1000,1070 1010,1090 1020,1105 1030,1080 1045,1075 1060,1070 1068,1010 1078,980 1090,900 1100,890 1110,905 1120,1000 1130,945 1145,940 1155,935 1160,1000 1170,1015 1180,1000 1195,1060 1210,1100 1225,1060 1240,1050 1255,1060 1270,990 1285,900 1295,840 1305,790 1315,830 1325,800 1335,850 1345,830 1355,810 1370,880 1385,930 1395,960 1405,900 1415,885 1425,880 1440,1000 1450,1020 1460,920 1470,880 1480,850 1490,825 1500,830 1510,885"/>
<polyline vector-effect="non-scaling-stroke" stroke="#1f6eb0" points="0,860 10,855 20,890 30,955 40,960 52,940 65,980 78,965 90,950 100,900 110,885 120,920 130,920 140,930 150,930 160,920 170,905 180,920 190,935 200,925 210,915 220,920 230,945 240,900 250,870 262,880 270,870 280,860 290,842 300,862 310,865 320,860 330,850 340,850 350,870 360,892 370,875 380,912 390,880 400,915 410,890 420,870 430,885 440,880 460,880 480,875 490,870 500,878 510,882 530,880 540,970 550,960 560,940 570,920 580,915 590,920 600,930 610,955 620,985 630,960 640,910 650,905 660,840 670,850 680,870 690,885 700,890 710,880 720,900 730,905 740,910 750,912 760,880 770,855 780,850 790,858 800,835 810,840 820,835 830,830 840,845 850,865 860,870 870,865 880,850 890,875 900,880 910,860 920,885 930,885 940,890 950,910 960,920 970,930 980,950 990,960 1000,915 1010,955 1020,990 1030,910 1040,885 1050,880 1060,900 1070,880 1080,830 1090,895 1100,880 1110,880 1120,870 1130,865 1140,870 1150,870 1160,855 1170,860 1180,845 1190,850 1200,830 1210,970 1220,940 1230,930 1240,925 1250,920 1260,905 1270,880 1278,810 1290,880 1300,920 1310,895 1320,905 1330,880 1340,915 1350,910 1360,880 1370,870 1380,870 1390,820 1400,845 1410,855 1420,860 1430,845 1440,832 1450,860 1460,880 1470,905 1480,895 1490,910 1500,920 1510,880"/>
<polyline vector-effect="non-scaling-stroke" stroke="#e52222" points="0,1060 10,1085 20,1100 30,1105 40,1100 50,1105 60,1110 70,1100 80,1100 95,1095 108,1055 118,1090 128,1100 138,1105 150,1100 160,1080 170,990 180,965 190,1000 200,1040 210,1070 220,1100 230,1110 240,1090 250,1080 262,1080 270,1060 278,1000 288,1050 298,1050 310,1060 320,1055 330,1060 340,1080 350,1100 360,1115 370,1110 380,1118 390,1110 400,1115 410,1095 420,1080 430,1060 440,960 450,960 460,990 470,1030 480,1085 490,1100 500,1060 510,1040 520,1000 530,930 540,810 550,805 560,1000 570,1060 580,1090 590,1100 600,1100 610,1105 620,1090 630,1060 640,1030 650,1080 660,1100 670,1105 680,1060 690,1020 700,1000 710,1040 720,1080 730,1100 740,1100 750,1085 760,1060 770,1020 780,1060 790,1055 800,1080 810,1070 820,1080 830,1060 840,1050 850,1040 860,1050 870,1040 880,1020 890,980 900,970 910,990 920,965 930,940 940,935 950,955 960,920 970,945 980,950 990,930 1000,850 1010,835 1020,720 1030,850 1040,860 1050,880 1058,845 1068,960 1078,1020 1090,1030 1100,1040 1110,1050 1118,940 1128,1030 1140,1030 1155,1030 1165,960 1175,975 1185,1000 1195,950 1205,880 1215,760 1225,800 1235,860 1245,870 1255,850 1265,920 1275,1000 1285,1090 1295,1110 1310,1110 1320,1110 1335,1115 1350,1110 1365,1100 1380,1080 1395,1040 1410,1080 1425,1085 1440,1080 1450,1030 1460,1060 1470,1080 1480,1105 1490,1110 1500,1095 1510,1075"/>
</g>
<g transform="translate(660,740) scale(0.79083,0.33333)">
<polyline vector-effect="non-scaling-stroke" stroke="#ff7f0e" points="527,610 535,615 545,625 552,650 558,620 565,618 575,620 580,628 587,590 595,580 605,568 615,562 628,562 635,545 645,540 652,545 658,530 665,540 672,515 684,482 692,500 700,495 710,520 720,495 728,468 740,458 750,480 760,500 770,470 778,460 790,465 798,432 810,420 818,405 830,405 838,420 845,388 855,382 862,385 870,410 876,418 885,388 895,365 902,380 910,372 920,398 928,372 940,362 950,365 958,348 965,325 975,318 985,305 995,310 1005,340 1012,330 1022,296 1030,295 1040,292 1048,305 1058,360 1065,310 1072,285 1082,270 1090,262 1095,255 1102,300 1108,255 1118,265 1125,275 1130,285 1138,300 1145,262 1152,240 1160,240 1165,265 1170,240 1178,265 1185,250 1192,235 1200,240 1210,232 1220,230 1228,245 1235,240 1242,248 1250,255 1258,225 1265,255 1270,245 1278,240 1285,315 1295,340 1302,320 1310,330 1315,325 1322,290 1330,260 1338,245 1345,260 1348,290 1355,245 1362,248 1368,290 1378,270 1385,300 1390,350 1398,365 1405,335 1412,370 1420,320 1430,295 1438,270 1445,265 1452,275 1460,248 1468,265 1478,270 1488,245 1498,248 1508,280 1515,240 1525,210 1532,202 1538,212"/>
</g>
</g>
</svg>

<!-- footer -->
<div class="a" style="left:0;top:1341px;width:2560px;height:49px;background:#2b2b2b;z-index:15"></div>
<div class="a" style="left:2291px;top:1344px;width:1px;height:46px;background:#ddd;z-index:16"></div>
<div class="a" style="left:2301px;top:1371px;width:15px;height:16px;background:#fff;z-index:16"></div>
<svg class="a" style="left:0;top:1341px;z-index:17" width="2560" height="49" viewBox="0 1341 2560 49">
<g font-family="Liberation Sans, sans-serif">
<text x="9" y="1374" font-size="12.5" fill="#fff">DISCLOSURE</text>
<text x="104" y="1366" font-size="11" fill="#fff" textLength="2174" lengthAdjust="spacingAndGlyphs">This is a licensed product of TAS Market Profile. Certain financial instruments featured on this product may not be available for execution through your provider brokerage firm. There is a risk of loss in trading stocks, commodities, and forex markets. Before you trade, you should carefully consider your financial situation and risk tolerance. Past performance is not indicative of future results and you are using this product at your own risk as</text>
<text x="104" y="1381" font-size="11" fill="#fff" textLength="754" lengthAdjust="spacingAndGlyphs">technical difficulties may be unexpected and unavoidable and no parties may be held liable for the impact of such occurrences. Please trade responsibly.</text>
<text x="2321" y="1364" font-size="13" fill="#22a522" textLength="204" lengthAdjust="spacingAndGlyphs">Last updated:   авг 02, 2016 12:19:33</text>
<text x="2324" y="1384" font-size="12.5" fill="#fff" textLength="218" lengthAdjust="spacingAndGlyphs">Show Scanner on top of other windows</text>
</g>
</svg>
<svg class="a" style="left:0;top:1320px;z-index:20" width="2560" height="60" viewBox="0 1320 2560 60">
<text x="715" y="1361" font-family="Liberation Serif, serif" font-style="italic" font-size="36" fill="#ff1a1a" stroke="#ffffff" stroke-opacity=".55" stroke-width="1.5" paint-order="stroke" textLength="1117" lengthAdjust="spacingAndGlyphs">www.forex-warez.com, andreybbrv@gmail.com, Skype: andreybbrv</text>
</svg>
</body></html>
